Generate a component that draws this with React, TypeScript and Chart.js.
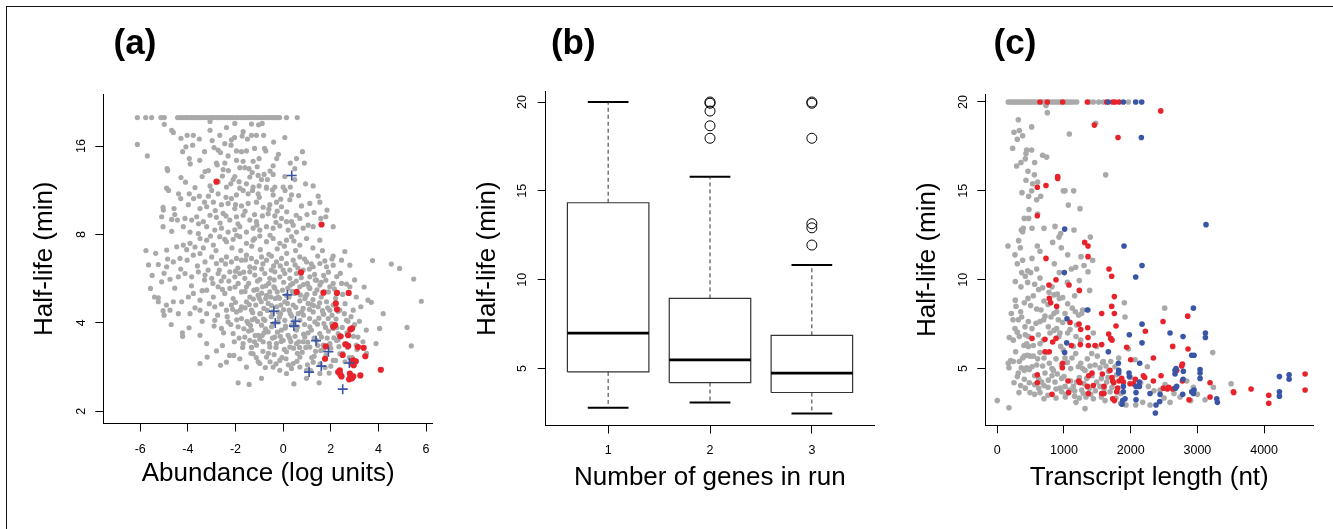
import React, { useEffect, useRef } from "react";
import { Chart, registerables } from "chart.js";
Chart.register(...registerables);

// ---------------- Panel (a): abundance vs half-life (log y) ----------------
const aXTicks = [-6, -4, -2, 0, 2, 4, 6];
const aYTicks = [2, 4, 8, 16];
// [abundance (log units), half-life (min)]
const aGray: [number, number][] = [
  [-6.12, 20], [-5.77, 20], [-5.52, 20], [-5.13, 20], [-4.99, 20], [-4.43, 20], [-4.32, 20], [-4.22, 20], [-4.1, 20], [-4.0, 20],
  [-3.88, 20], [-3.78, 20], [-3.66, 20], [-3.55, 20], [-3.45, 20], [-3.33, 20], [-3.22, 20], [-3.1, 20], [-3.0, 20], [-2.9, 20],
  [-2.78, 20], [-2.68, 20], [-2.56, 20], [-2.45, 20], [-2.34, 20], [-2.22, 20], [-2.12, 20], [-2.0, 20], [-1.9, 20], [-1.78, 20],
  [-1.67, 20], [-1.56, 20], [-1.45, 20], [-1.34, 20], [-1.22, 20], [-1.11, 20], [-1.0, 20], [-0.9, 20], [-0.78, 20], [-0.67, 20],
  [-0.56, 20], [-0.45, 20], [-0.34, 20], [-0.24, 20], [-0.15, 20], [0.14, 20], [0.59, 20],
  [-4.99, 18.96], [-4.68, 18.1], [-4.61, 17.8], [-3.07, 19.4], [-3.07, 18.1], [-2.38, 18.5], [-2.03, 19.1], [-1.68, 17.9], [-1.33, 19.0],
  [-1.03, 18.9], [-0.88, 19.1], [-4.29, 17.0], [-4.03, 17.4], [-3.77, 17.4], [-3.52, 16.9], [-2.98, 16.7], [-2.66, 17.4], [-2.17, 16.8],
  [-2.04, 17.1], [-1.72, 17.3], [-1.5, 16.9], [-1.33, 17.4], [-1.12, 17.4], [-0.82, 17.4], [0.07, 17.1], [-6.12, 16.2], [-2.19, 16.1],
  [-5.7, 14.8], [-4.22, 15.3], [-4.08, 15.9], [-3.94, 14.5], [-2.73, 15.5], [-2.63, 15.2], [-2.31, 14.8], [-1.96, 15.4], [-1.75, 15.3],
  [-1.54, 15.4], [-0.78, 15.7], [-0.73, 15.4], [-0.27, 14.5], [0.56, 14.5], [0.81, 15.3], [0.89, 14.0], [-2.8, 14.0], [-2.45, 14.0],
  [-1.96, 14.3], [-1.68, 14.2], [-1.26, 14.2], [-1.01, 14.5], [-0.42, 13.7], [-1.09, 13.6],
  [-4.85, 13.2], [-4.29, 12.5], [-3.28, 13.1], [-3.14, 13.2], [-2.77, 13.8], [-2.52, 13.3], [-2.03, 12.6], [-1.82, 13.5], [-1.61, 13.5],
  [-1.43, 13.4], [-1.05, 12.7], [-0.91, 12.3], [-0.66, 12.3], [-0.42, 12.8], [0.07, 12.6], [0.49, 13.4], [0.94, 11.9], [1.26, 11.7],
  [-4.89, 11.5], [-4.81, 11.3], [-4.39, 11.0], [-3.94, 11.0], [-3.07, 11.7], [-2.73, 12.1], [-2.38, 11.6], [-2.1, 12.3], [-1.82, 11.5],
  [-1.54, 11.9], [-1.26, 11.6], [-1.01, 11.7], [-0.7, 11.6], [-0.35, 11.6], [0.0, 11.6], [0.08, 11.3], [0.49, 12.3],
  [-3.76, 10.6], [-3.52, 10.8], [-3.14, 10.8], [-2.73, 11.0], [-2.4, 10.7], [-2.17, 10.6], [-1.96, 10.9], [-1.68, 11.3], [-1.47, 11.0],
  [-1.29, 11.3], [-1.05, 11.0], [-0.7, 11.5], [-0.42, 10.9], [0.35, 10.9], [1.47, 10.8], [1.54, 10.3], [-5.03, 9.68], [-4.58, 9.8],
  [-3.98, 10.1], [-3.49, 9.8], [-3.21, 9.94], [-2.93, 10.3], [-2.59, 10.1], [-2.31, 10.2], [-2.03, 9.8], [-1.75, 10.0], [-1.47, 10.2],
  [-1.12, 10.3], [-0.84, 9.9], [-0.56, 10.1], [-0.28, 10.3], [-0.07, 9.94], [0.28, 10.5], [0.77, 10.0], [1.12, 10.2], [1.84, 9.68], [1.3, 9.5],
  [-5.1, 9.19], [-4.44, 8.95], [-4.12, 9.07], [-3.84, 8.95], [-3.63, 9.19], [-3.35, 8.84], [-3.07, 9.3], [-2.8, 9.15], [-2.52, 9.43],
  [-2.24, 8.95], [-1.96, 9.19], [-1.68, 9.3], [-1.4, 8.95], [-1.12, 8.84], [-0.87, 9.25], [-0.63, 9.4], [-0.35, 9.25], [-0.07, 9.07],
  [0.14, 8.84], [0.42, 8.6], [0.7, 9.07], [1.05, 8.6], [1.26, 8.5], [1.58, 9.07], [1.79, 9.19], [2.1, 8.5], [-5.76, 7.05], [-4.68, 8.2],
  [-4.19, 8.5], [-3.91, 8.15], [-3.56, 8.06], [-3.21, 8.5], [-2.87, 8.28], [-2.59, 8.4], [-2.31, 8.15], [-2.03, 8.3], [-1.82, 8.5],
  [-1.54, 8.15], [-1.26, 8.4], [-0.98, 8.28], [-0.7, 8.5], [-0.42, 8.4], [-0.14, 8.55], [0.21, 8.28], [0.56, 8.15], [0.84, 8.4],
  [-4.89, 7.08], [-4.47, 7.26], [-4.19, 7.36], [-3.91, 7.46], [-3.49, 7.75], [-3.21, 7.65], [-2.93, 7.36], [-2.66, 7.86], [-2.38, 7.56],
  [-2.1, 7.7], [-1.82, 7.86], [-1.54, 7.46], [-1.26, 7.65], [-0.98, 7.9], [-0.7, 7.56], [-0.42, 7.75], [-0.14, 7.46], [0.14, 7.65],
  [0.35, 7.86], [0.7, 7.36], [0.98, 7.75], [1.54, 7.65], [2.1, 6.75], [2.59, 7.0], [3.75, 6.52], [4.54, 6.34], [4.89, 6.13],
  [-5.57, 5.24], [-5.24, 6.32], [-4.89, 6.21], [-4.61, 6.45], [-4.33, 6.63], [-4.03, 6.54], [-3.77, 6.8], [-3.49, 6.89], [-3.28, 6.45],
  [-3.0, 6.71], [-2.8, 6.37], [-2.59, 6.54], [-2.38, 6.71], [-2.17, 6.45], [-1.96, 6.63], [-1.75, 6.54], [-1.54, 6.8], [-1.33, 6.63],
  [-1.12, 6.45], [-0.91, 6.71], [-0.7, 6.54], [-0.49, 6.75], [-0.28, 6.45], [-0.07, 6.63], [0.14, 6.37], [0.42, 6.54], [0.7, 6.71],
  [0.98, 6.45], [1.26, 6.21], [1.54, 6.37], [1.82, 6.21], [2.1, 6.29], [2.45, 6.54], [2.8, 6.29], [-5.1, 5.52], [-4.75, 5.63],
  [-4.4, 5.74], [-4.12, 5.89], [-3.84, 5.74], [-3.56, 5.97], [-3.28, 5.82], [-3.0, 5.67], [-2.73, 5.89], [-2.49, 5.74], [-2.24, 5.97],
  [-2.03, 5.74], [-1.82, 5.89], [-1.61, 5.67], [-1.4, 5.97], [-1.19, 5.82], [-0.98, 5.63], [-0.77, 5.89], [-0.56, 5.67], [-0.35, 5.97],
  [-0.14, 5.74], [0.07, 5.89], [0.28, 5.67], [0.56, 5.89], [0.84, 6.05], [1.12, 5.74], [1.4, 5.59], [1.79, 5.59], [2.1, 5.45],
  [2.45, 5.45], [2.8, 5.31], [5.48, 5.64],
  [-5.24, 4.72], [-5.0, 4.25], [-4.75, 4.42], [-4.26, 4.72], [-3.98, 4.9], [-3.77, 5.04], [-3.49, 4.78], [-3.21, 5.17], [-2.93, 4.9],
  [-2.73, 5.31], [-2.45, 5.04], [-2.24, 5.24], [-2.1, 4.84], [-1.89, 5.45], [-1.75, 5.1], [-1.54, 5.31], [-1.4, 4.9], [-1.23, 5.17],
  [-1.05, 4.97], [-0.87, 5.31], [-0.73, 4.84], [-0.56, 5.1], [-0.39, 5.31], [-0.21, 4.9], [-0.03, 5.17], [0.14, 4.97], [0.31, 5.38],
  [0.49, 5.04], [0.7, 5.31], [0.91, 4.84], [1.12, 5.24], [1.33, 5.04], [1.54, 5.38], [1.75, 5.1], [1.96, 5.31], [2.24, 5.04],
  [2.66, 5.42], [3.07, 4.9], [3.56, 4.78], [4.05, 3.83], [5.2, 3.86], [5.38, 3.34], [5.8, 4.74], [-3.91, 4.3], [-3.49, 4.42],
  [-3.21, 4.3], [-2.87, 4.54], [-2.59, 4.63], [-2.38, 4.42], [-2.17, 4.6], [-1.96, 4.36], [-1.75, 4.54], [-1.54, 4.72], [-1.33, 4.42],
  [-1.15, 4.6], [-0.98, 4.3], [-0.81, 4.48], [-0.63, 4.66], [-0.45, 4.36], [-0.28, 4.54], [-0.11, 4.3], [0.07, 4.72], [0.25, 4.42],
  [0.42, 4.6], [0.63, 4.3], [0.84, 4.48], [1.05, 4.66], [1.26, 4.36], [1.47, 4.54], [1.68, 4.3], [1.96, 4.42], [2.38, 4.42],
  [2.94, 4.42], [3.26, 4.54],
  [-4.22, 3.6], [-3.49, 3.63], [-3.21, 3.4], [-2.87, 4.08], [-2.59, 3.83], [-2.31, 4.03], [-2.1, 3.68], [-1.89, 3.88], [-1.75, 4.14],
  [-1.61, 3.58], [-1.47, 3.98], [-1.33, 3.78], [-1.19, 4.14], [-1.05, 3.63], [-0.91, 3.93], [-0.77, 4.08], [-0.63, 3.73], [-0.49, 3.88],
  [-0.35, 3.58], [-0.21, 4.03], [-0.07, 3.78], [0.07, 4.08], [0.21, 3.63], [0.35, 3.93], [0.56, 3.78], [0.7, 4.08], [0.91, 3.58],
  [1.12, 3.88], [1.33, 4.03], [1.54, 3.68], [1.71, 3.98], [1.89, 4.14], [2.1, 3.83], [2.31, 3.68], [2.66, 4.08], [2.94, 3.88],
  [3.14, 3.58], [3.49, 3.78], [-1.68, 3.4], [-1.4, 3.49], [-1.12, 3.36], [-0.84, 3.45], [-0.56, 3.31], [-0.28, 3.4], [0.0, 3.49],
  [0.28, 3.31], [0.56, 3.4], [0.84, 3.45], [1.12, 3.31], [1.4, 3.49], [1.68, 3.36], [1.96, 3.4], [2.24, 3.49], [2.66, 3.4],
  [3.07, 3.36], [3.35, 3.45],
  [-3.19, 3.06], [-2.8, 3.21], [-2.63, 2.87], [-2.38, 2.94], [-2.07, 3.1], [-1.82, 3.02], [-1.54, 2.83], [-1.26, 3.14], [-0.98, 2.91],
  [-0.7, 3.06], [-0.42, 2.83], [-0.14, 2.98], [0.14, 3.19], [0.42, 2.91], [0.7, 3.06], [0.98, 2.76], [1.26, 2.94], [1.54, 2.69],
  [1.93, 2.7], [2.1, 2.98], [2.38, 3.14], [-3.49, 2.91], [-1.89, 2.5], [-1.43, 2.47], [-0.91, 2.59], [0.45, 2.48], [1.51, 2.5],
  [-0.14, 2.76], [0.14, 2.69], [0.7, 2.83], [0.98, 2.59],
  [-1.6, 4.5], [-1.3, 4.1], [-1.0, 4.85], [-0.8, 3.7], [-0.5, 4.2], [-0.3, 3.3], [-0.1, 4.6], [0.1, 3.9], [0.3, 4.3], [0.5, 3.6],
  [0.7, 4.75], [0.9, 3.95], [1.1, 4.45], [1.3, 3.55], [1.5, 4.15], [1.7, 3.25], [1.9, 3.75], [2.1, 4.6], [2.3, 3.5], [2.5, 3.15],
  [-1.45, 3.75], [-1.2, 3.45], [-0.95, 4.3], [-0.7, 4.95], [-0.45, 3.55], [-0.2, 4.35], [0.05, 3.25], [0.25, 4.9], [0.45, 4.05],
  [0.65, 3.45], [0.85, 4.25], [1.05, 3.7], [1.25, 4.8], [1.45, 3.35], [1.65, 4.4], [1.85, 3.55], [2.05, 4.25], [2.25, 3.85],
  [2.45, 3.6], [2.7, 3.3], [-2.0, 4.7], [-2.2, 3.95], [-1.85, 3.55], [-1.1, 5.2], [-0.6, 5.45], [-0.25, 5.1], [0.2, 5.25],
  [0.55, 5.55], [1.0, 5.0], [1.35, 5.6], [1.6, 4.9], [1.9, 5.1], [2.2, 4.85], [2.6, 4.65], [2.85, 4.2], [3.0, 3.95], [3.2, 4.05],
  [2.9, 3.05], [2.6, 2.95], [0.35, 2.8], [-0.85, 3.2], [-0.55, 2.95], [-0.05, 3.05], [0.6, 3.15], [0.95, 3.3], [1.2, 3.05],
  [1.55, 2.9], [1.8, 3.1], [2.0, 2.85], [-1.35, 3.15], [-1.05, 2.95], [-2.5, 3.7], [-2.75, 4.25], [-2.9, 3.9], [-3.1, 4.65],
  [-3.4, 4.05], [-3.7, 4.5], [-3.95, 3.85], [-4.4, 4.3], [-4.7, 3.95], [-4.9, 4.6], [-5.4, 4.9], [-5.5, 5.8], [-3.3, 5.6],
  [-2.6, 5.55], [-2.0, 6.0], [-1.4, 6.2], [-0.9, 6.1], [-0.4, 6.25], [0.0, 6.05], [0.5, 6.3], [1.1, 6.1], [1.7, 5.8], [2.4, 5.9],
  [3.0, 5.6], [3.4, 5.3], [3.7, 4.7], [4.2, 4.3], [3.9, 3.4], [3.5, 3.15],
  [-5.04, 9.9], [-5.04, 8.5], [-4.87, 13.4], [-4.68, 9.0], [-4.61, 4.72], [-4.23, 3.7], [-5.24, 4.87], [-5.04, 4.4],
  [-1.42, 4.62], [-1.37, 3.92], [-1.28, 4.33], [-1.18, 3.62], [-1.08, 4.05], [-0.98, 3.52], [-0.92, 4.72], [-0.83, 4.12], [-0.74, 3.82],
  [-0.66, 4.41], [-0.58, 3.41], [-0.49, 4.58], [-0.4, 3.98], [-0.33, 4.84], [-0.24, 3.72], [-0.16, 4.18], [-0.08, 3.46], [0.02, 4.44],
  [0.09, 3.84], [0.18, 4.66], [0.27, 3.55], [0.36, 4.22], [0.44, 3.28], [0.53, 4.52], [0.61, 3.88], [0.69, 3.3], [0.78, 4.36],
  [0.86, 3.66], [0.94, 4.92], [1.03, 3.44], [1.11, 4.14], [1.19, 3.78], [1.28, 4.58], [1.36, 3.2], [1.44, 3.96], [1.53, 4.68],
  [1.61, 3.58], [1.7, 4.28], [1.78, 3.86], [1.87, 4.5], [1.95, 3.36], [2.04, 3.98], [2.13, 3.56], [2.22, 4.12], [2.34, 3.32],
  [2.48, 3.86], [2.57, 4.3], [2.68, 3.7], [-1.33, 3.3], [-1.13, 3.05], [-0.88, 3.62], [-0.62, 3.15], [-0.38, 3.12], [-0.12, 3.6],
  [0.12, 3.02], [0.32, 3.46], [0.58, 2.96], [0.8, 3.18], [1.02, 2.88], [1.3, 3.08], [1.58, 3.22], [1.76, 2.82], [2.0, 3.28],
  [2.2, 2.98], [1.16, 2.75], [0.22, 2.88], [-0.3, 2.9], [-0.75, 2.82], [-1.52, 4.05], [-1.65, 3.82], [-1.8, 4.42], [-1.95, 4.1],
  [-2.12, 4.45], [-2.35, 4.2], [-2.05, 3.45], [-1.7, 3.3], [-2.55, 3.35], [-2.25, 3.1], [-0.9, 5.05], [-0.52, 4.9], [-0.15, 4.85],
  [0.38, 5.12], [0.72, 4.98], [1.08, 5.3], [1.42, 5.18], [1.82, 4.72], [2.15, 5.22], [2.5, 5.0], [-1.6, 5.12], [-1.25, 4.82],
  [-0.35, 5.25], [0.85, 5.4], [1.2, 4.62], [2.3, 4.38], [2.72, 4.05], [2.95, 3.6], [3.1, 3.25], [2.78, 3.05],
  [-3.85, 5.35], [-3.6, 6.25], [-3.4, 5.15], [-3.15, 6.05], [-2.95, 5.45], [-2.82, 7.05], [-2.68, 6.05], [-2.55, 5.2], [-2.42, 6.35],
  [-2.28, 5.55], [-2.15, 7.2], [-2.02, 5.3], [-1.9, 6.15], [-1.78, 7.05], [-1.66, 5.95], [-1.58, 6.55], [-1.45, 5.45], [-1.32, 7.3],
  [-1.2, 6.15], [-1.08, 5.55], [-0.96, 7.1], [-0.85, 6.35], [-0.72, 5.35], [-0.6, 6.85], [-0.5, 6.05], [-0.38, 5.6], [-0.25, 7.15],
  [-0.12, 6.25], [0.02, 5.5], [0.15, 6.9], [0.28, 6.05], [0.4, 5.45], [0.52, 7.05], [0.62, 6.15], [0.76, 5.7], [0.9, 6.6],
  [1.02, 5.45], [1.18, 6.35], [1.32, 5.85], [1.45, 6.75], [1.6, 5.5], [1.75, 6.5], [1.9, 5.95], [2.05, 6.6], [2.25, 5.75],
  [-4.55, 5.25], [-4.3, 6.1], [-4.05, 7.1], [-3.7, 7.25], [-3.35, 7.2], [-3.05, 7.9], [-2.45, 7.7], [-1.95, 7.95], [-1.2, 7.75],
  [-0.55, 7.95], [0.05, 7.3], [0.45, 7.6], [1.25, 7.2], [1.65, 7.05], [-5.0, 5.9], [-4.85, 6.6], [-5.35, 6.9], [-5.65, 6.3],
  [-4.1, 12.05], [-3.7, 11.55], [-3.4, 12.6], [-3.3, 10.3], [-3.0, 11.3], [-2.85, 9.65], [-2.55, 12.65], [-2.4, 9.25], [-2.2, 11.9],
  [-2.0, 10.1], [-1.85, 12.1], [-1.6, 9.6], [-1.4, 12.55], [-1.2, 9.35], [-1.0, 10.7], [-0.8, 12.8], [-0.6, 9.75], [-0.45, 11.35],
  [-0.25, 9.6], [-0.1, 10.55], [0.15, 9.55], [0.3, 11.6], [0.55, 9.3], [0.65, 10.85], [1.0, 9.35], [-3.55, 8.7], [-2.65, 8.75],
  [-1.9, 8.7], [-1.1, 8.6], [-0.3, 8.8], [0.35, 8.85], [-4.3, 10.6], [-4.55, 9.35], [-3.9, 13.9], [-3.5, 14.3], [-2.3, 13.2],
  [-1.3, 13.0], [-0.55, 13.15], [-0.2, 15.0], [0.3, 14.0], [-3.3, 15.3], [-2.9, 15.8], [-1.2, 15.7], [-0.4, 16.5], [-3.8, 16.1],
  [-2.45, 16.3],
];
const aRed: [number, number][] = [
  [-2.8, 12.1], [1.61, 8.65], [0.75, 5.94], [0.57, 5.1], [1.69, 5.07], [2.26, 5.06], [2.75, 5.06], [2.21, 4.66], [2.26, 4.45],
  [2.1, 3.88], [2.18, 3.93], [2.4, 3.6], [2.73, 3.63], [2.82, 3.8], [2.89, 3.83], [1.79, 3.33], [2.61, 3.38], [2.73, 3.34],
  [3.14, 3.31], [3.38, 3.29], [2.5, 3.11], [3.45, 3.08], [1.76, 3.02], [2.94, 2.98], [3.05, 2.96], [2.87, 2.91], [2.38, 2.76],
  [2.4, 2.67], [2.45, 2.63], [2.8, 2.69], [2.82, 2.61], [2.94, 2.63], [3.24, 2.65], [2.77, 2.57], [2.89, 2.59], [4.1, 2.77],
  [2.31, 2.72], [2.96, 2.87],
];
const aBlue: [number, number][] = [
  [0.36, 12.7], [0.18, 4.98], [-0.39, 4.38], [-0.33, 4.0], [0.52, 4.05], [0.45, 3.9], [1.38, 3.48], [1.9, 3.19], [2.78, 2.92],
  [1.6, 2.85], [1.09, 2.72], [2.5, 2.38],
];

// ---------------- Panel (b): box plot of half-life by run size ----------------
const bGroups = [1, 2, 3];
const bYTicks = [5, 10, 15, 20];
const bQ1 = [4.81, 4.21, 3.65];
const bMedian = [6.99, 5.49, 4.74];
const bQ3 = [14.33, 8.95, 6.87];
const bWhiskerLow = [2.79, 3.09, 2.47];
const bWhiskerHigh = [20, 15.8, 10.83];
const bOutliers: number[][] = [
  [],
  [20, 19.93, 19.49, 18.66, 17.96],
  [20, 19.93, 17.96, 13.15, 12.92, 11.95],
];

// ---------------- Panel (c): transcript length vs half-life ----------------
const cXTicks = [0, 1000, 2000, 3000, 4000];
const cYTicks = [5, 10, 15, 20];
// [transcript length (nt), half-life (min)]
const cGray: [number, number][] = [
  [165, 20], [200, 20], [230, 20], [260, 20], [290, 20], [320, 20], [350, 20], [380, 20], [410, 20], [440, 20], [470, 20], [500, 20],
  [530, 20], [560, 20], [600, 20], [680, 20], [710, 20], [780, 20], [820, 20], [860, 20], [900, 20], [940, 20], [1020, 20], [1060, 20],
  [1100, 20], [1140, 20], [1190, 20], [1380, 20], [1440, 20], [1520, 20], [1590, 20], [1965, 20],
  [730, 19.8], [750, 19.4], [315, 19.0], [330, 18.4], [380, 18.1], [515, 18.6], [1080, 18.2], [1475, 18.8],
  [230, 17.4], [430, 17.1], [440, 17.3], [515, 17.3], [680, 17.0], [740, 16.9], [355, 16.6], [460, 16.1], [555, 15.9], [1625, 15.9],
  [530, 15.4], [605, 15.5], [990, 15.0], [1015, 15.0], [1145, 15.0], [515, 15.0], [590, 14.5], [650, 14.7], [1065, 14.2], [475, 13.95],
  [405, 13.45], [470, 13.45], [605, 13.7], [360, 12.8], [380, 12.7], [390, 12.9], [865, 13.0], [925, 12.4], [950, 12.6], [1395, 12.4],
  [160, 11.9], [600, 11.9], [640, 11.6], [265, 11.4], [1055, 11.4], [1255, 11.3], [855, 10.9], [520, 11.2],
  [365, 10.4], [455, 10.5], [590, 10.6], [640, 10.1], [930, 10.4], [1175, 10.7], [1360, 10.45], [355, 9.6], [540, 9.1], [775, 9.3],
  [900, 9.2], [1160, 9.1], [1385, 9.4], [270, 8.85], [280, 8.5], [405, 8.7], [500, 8.55], [850, 9.15], [1280, 8.3], [1905, 8.7],
  [1915, 7.9], [2510, 8.4], [3230, 5.9],
  [0, 3.2], [175, 2.8], [165, 5.3], [175, 5.05], [200, 5.45], [240, 5.4], [180, 6.75], [300, 7.05], [330, 6.8], [400, 6.3], [440, 6.4],
  [465, 6.25], [490, 5.7], [405, 5.7], [450, 5.75], [325, 3.65], [490, 3.65], [405, 4.4], [315, 4.75], [405, 4.9], [275, 5.95],
  [330, 5.4], [440, 5.05], [590, 5.2], [605, 5.55], [640, 5.9], [580, 7.55], [640, 7.65], [695, 7.75], [765, 7.35], [790, 7.0],
  [850, 7.15], [890, 7.25], [940, 7.0], [950, 6.25], [925, 6.8], [990, 6.05], [1015, 5.6], [1050, 5.35], [1120, 5.6], [1175, 5.85],
  [1215, 5.1], [1280, 5.0], [1315, 4.9], [1390, 5.15], [1465, 5.2], [1540, 5.05], [1590, 5.4], [1630, 5.15], [2065, 5.5], [2250, 5.1],
  [1965, 6.1], [1090, 7.2], [1190, 7.45], [1265, 8.1], [1365, 8.3], [1140, 6.25], [840, 4.9], [715, 4.75], [765, 4.35], [665, 4.25],
  [865, 4.25], [965, 4.45], [1015, 4.0], [965, 3.7], [1080, 3.8], [1140, 4.0], [1190, 4.25], [1265, 3.8], [1330, 3.4], [1340, 4.45],
  [1490, 4.25], [1540, 4.0], [1640, 4.25], [1690, 3.7], [1615, 3.2], [1315, 2.75], [1440, 3.3], [1290, 3.6], [1665, 4.85], [1765, 5.1],
  [1930, 2.95], [2075, 2.95], [2265, 4.0], [2440, 3.8], [2515, 4.1], [2590, 3.1], [2740, 3.4], [2940, 3.95], [3115, 3.25], [3505, 4.15],
  [3240, 3.95], [2840, 4.3], [2180, 3.1], [2290, 2.95],
  [315, 7.75], [365, 7.9], [415, 7.35], [465, 7.65], [520, 7.25], [615, 6.9], [690, 6.6], [640, 6.4], [540, 6.3], [465, 6.8],
  [265, 7.25], [240, 6.6], [1015, 8.1], [980, 7.6], [805, 7.9], [850, 8.1], [915, 7.75], [1055, 7.0], [1180, 6.8], [1250, 6.6],
  [1440, 7.0], [1490, 6.25], [1415, 5.85], [1580, 5.35], [655, 8.3], [715, 7.95], [930, 8.95], [890, 8.2], [1055, 8.65], [1125, 8.4],
  [1170, 8.2], [1220, 8.0],
  [560, 4.1], [620, 3.9], [700, 4.05], [760, 3.95], [820, 4.6], [880, 3.85], [900, 4.7], [1000, 4.55], [1030, 3.55], [1100, 4.3],
  [1160, 3.45], [1230, 4.5], [1300, 4.15], [1380, 3.9], [1420, 4.6], [1470, 3.75], [1560, 4.45], [1600, 3.85], [1660, 4.5], [1720, 3.95],
  [1790, 4.65], [1850, 3.6], [1250, 5.3], [1100, 5.0], [960, 5.2], [880, 5.55], [780, 5.3], [700, 5.6], [1350, 5.55], [1500, 5.7],
  [1700, 5.4], [1820, 5.6], [2000, 4.5], [2150, 4.2], [2350, 3.75], [2500, 3.35], [2650, 3.6], [2900, 3.2], [3000, 3.55], [1850, 3.05],
  [1020, 3.4], [1160, 3.75], [760, 3.5], [820, 5.0], [560, 4.6], [520, 5.1], [480, 4.2], [420, 3.9],
  [270, 9.9], [300, 10.9], [320, 12.2], [345, 11.8], [380, 11.1], [420, 10.2], [455, 9.85], [500, 10.4], [560, 9.75], [620, 9.45],
  [700, 8.8], [760, 8.6], [520, 12.9], [470, 14.7], [430, 15.6], [370, 14.9], [290, 16.4], [250, 18.3], [300, 17.9], [420, 16.8],
  [560, 16.6], [210, 8.1], [235, 7.75], [350, 8.2], [460, 8.95], [590, 8.35], [680, 9.55], [820, 9.6], [980, 9.0], [1050, 9.85],
  [1110, 10.6], [1230, 9.95], [1300, 10.8], [1430, 11.1], [960, 11.8], [830, 12.1], [700, 12.9], [1150, 12.8], [1240, 14.0], [360, 5.05],
  [380, 5.6], [300, 4.55], [250, 4.2], [350, 4.05], [480, 4.95], [540, 5.7], [620, 4.45], [680, 5.15], [740, 5.9], [560, 3.55],
  [640, 3.65], [700, 3.3], [880, 3.35], [940, 3.9], [1180, 3.1], [1400, 3.55], [1560, 3.4], [1780, 3.35], [1230, 3.35], [420, 6.9],
];
const cRed: [number, number][] = [
  [640, 20], [750, 20], [980, 20], [1350, 20], [1640, 20], [1730, 20], [1765, 20], [1825, 20],
  [2450, 19.5], [1455, 18.7], [1810, 18.0], [905, 15.8], [905, 15.7], [600, 15.2], [730, 15.3], [600, 13.6],
  [1310, 12.1], [1360, 11.9], [1360, 11.3], [730, 11.2],
  [775, 9.7], [880, 10.0], [1075, 9.7], [1230, 9.4], [1755, 9.05], [780, 8.95], [800, 8.7], [890, 8.5], [1565, 8.1], [1715, 8.5],
  [1755, 8.1], [1675, 10.6], [1715, 10.2], [2485, 7.65], [2855, 7.95], [1780, 7.4], [2220, 7.1],
  [1090, 7.6], [1225, 7.5], [1250, 7.2], [1355, 7.3], [1360, 6.75], [1670, 6.95], [1700, 6.7], [1720, 6.6], [1940, 6.2], [2000, 5.5],
  [2340, 5.6], [2630, 6.25], [2860, 6.1], [520, 6.7], [715, 6.65], [715, 5.95], [780, 5.95], [830, 6.5], [880, 6.7], [1110, 6.3],
  [1245, 6.35], [1365, 6.3], [1465, 6.3], [1565, 6.35],
  [600, 4.65], [600, 4.2], [820, 3.55], [980, 5.3], [975, 5.05], [1060, 4.3], [1070, 3.65], [1220, 4.3], [1240, 4.2], [1365, 3.6],
  [1370, 4.6], [1420, 4.75], [1440, 4.05], [1350, 4.0], [1575, 4.7], [1565, 3.6], [1600, 3.6], [1600, 4.0], [1690, 4.9], [1720, 4.5],
  [1730, 4.3], [1745, 4.2], [1730, 3.3], [1755, 3.2], [1790, 3.7], [1805, 3.9], [1825, 4.3], [1865, 4.45], [1890, 4.25], [1990, 4.15],
  [2040, 4.15], [2070, 4.4], [2190, 4.6], [2210, 4.5], [2340, 4.3], [2455, 4.6], [2490, 3.9], [2550, 3.85], [2570, 3.95], [2630, 3.85],
  [2690, 4.9], [2765, 5.15], [2775, 5.25], [2775, 4.3], [2875, 3.25], [3190, 4.2], [3190, 3.4], [3540, 3.7], [3545, 3.65], [3805, 3.85],
  [4070, 3.5], [4070, 3.05], [4615, 4.7], [4615, 3.8],
];
const cBlue: [number, number][] = [
  [1665, 20], [1890, 20], [2075, 20], [2165, 20],
  [2160, 18.0], [1010, 12.85], [1900, 11.9], [2170, 10.8], [2075, 10.15], [1005, 10.4], [3130, 13.1],
  [1350, 8.3], [2940, 8.4], [1045, 7.8], [2170, 7.5], [1980, 6.9], [2590, 7.0], [2785, 6.8], [3120, 7.0], [3120, 6.75], [1040, 6.45],
  [2170, 6.45], [1665, 5.95], [1010, 5.9], [2915, 5.75], [2950, 5.75], [2135, 5.3],
  [1815, 5.3], [1820, 4.9], [1820, 4.75], [1890, 4.0], [1890, 3.7], [1880, 3.2], [1870, 3.0], [1915, 3.3], [1975, 4.75], [1980, 4.55],
  [2080, 4.0], [2080, 3.65], [2080, 3.25], [2130, 4.25], [2130, 4.0], [2290, 3.6], [2380, 2.95], [2370, 2.5], [2440, 3.55], [2435, 3.15],
  [2665, 4.9], [2665, 4.7], [2680, 5.0], [2690, 4.0], [2670, 3.9], [2780, 3.55], [2785, 4.4], [2790, 4.85], [2915, 3.7], [2940, 3.6],
  [2950, 3.8], [3040, 4.95], [3040, 4.75], [3040, 4.45], [3290, 3.3], [3300, 3.1], [4230, 4.55], [4230, 3.7], [4230, 3.45], [4375, 4.65],
  [4375, 4.4],
];

// ---------------- styling ----------------
const FONT = "'Liberation Sans', Arial, Helvetica, sans-serif";
const GRAY = "#a9a9a9";
const RED = "#e8222a";
const BLUE = "#3a55a5";
const BOX_HALF = 0.4;
const CAP_HALF = 0.2;
const TICK_FONT_SIZE = 12.5;

Chart.defaults.font.family = FONT;

const pts = (arr: [number, number][]) => arr.map(([x, y]) => ({ x, y }));

// Panel letter and R-style rotated y tick labels (taken from the y scale's own ticks).
const panelDecor = {
  id: "panelDecor",
  afterDraw(chart: any, _args: any, opts: any) {
    const ctx = chart.ctx;
    ctx.save();
    ctx.font = `bold 35px ${FONT}`;
    ctx.fillStyle = "#000";
    ctx.textAlign = "center";
    ctx.textBaseline = "alphabetic";
    ctx.fillText(opts.text, opts.x, opts.y);

    const ys = chart.scales.y;
    ctx.font = `${TICK_FONT_SIZE}px ${FONT}`;
    ctx.textAlign = "center";
    ctx.textBaseline = "middle";
    for (const t of ys.ticks) {
      const py = ys.getPixelForValue(t.value);
      ctx.save();
      ctx.translate(ys.right - opts.yLabelOffset, py);
      ctx.rotate(-Math.PI / 2);
      ctx.fillText(String(t.value), 0, 0);
      ctx.restore();
    }
    ctx.restore();
  },
};

function axisCommon(ticks: number[], tickPad: number) {
  return {
    bounds: "data",
    afterBuildTicks: (s: any) => {
      s.ticks = ticks.map((v) => ({ value: v }));
    },
    grid: { display: true, drawOnChartArea: false, drawTicks: true, tickLength: 8, color: "#000", tickColor: "#000", lineWidth: 1 },
    border: { display: true, color: "#000", width: 1 },
    ticks: { color: "#000", font: { size: TICK_FONT_SIZE }, padding: tickPad, autoSkip: false, callback: (v: any) => String(v) },
  };
}

function xAxis(type: string, min: number, max: number, ticks: number[], tickPad: number, title: string, titlePad: number) {
  const c: any = axisCommon(ticks, tickPad);
  return {
    ...c,
    type,
    position: "bottom",
    min,
    max,
    afterFit: (s: any) => {
      s.height = 100;
    },
    ticks: { ...c.ticks, maxRotation: 0, minRotation: 0 },
    title: { display: true, text: title, color: "#000", font: { size: 26 }, padding: { top: 0, bottom: titlePad } },
  };
}

function yAxis(type: string, min: number, max: number, ticks: number[], width: number, titlePad: number) {
  const c: any = axisCommon(ticks, 0);
  return {
    ...c,
    type,
    position: "left",
    min,
    max,
    afterFit: (s: any) => {
      s.width = width;
    },
    ticks: { ...c.ticks, display: false },
    title: { display: true, text: "Half-life (min)", color: "#000", font: { size: 26 }, padding: { top: titlePad, bottom: 0 } },
  };
}

function baseOptions(padding: any, decor: any, scales: any) {
  return {
    responsive: false,
    animation: false,
    events: [],
    layout: { padding },
    plugins: { legend: { display: false }, tooltip: { enabled: false }, panelDecor: decor },
    scales,
  };
}

function configA() {
  return {
    type: "scatter",
    data: {
      datasets: [
        { data: pts(aBlue), pointStyle: "cross", pointRadius: 5, borderColor: BLUE, borderWidth: 1.6, backgroundColor: BLUE },
        { data: pts(aRed), pointStyle: "circle", pointRadius: 3.1, backgroundColor: RED, borderWidth: 0 },
        { data: pts(aGray), pointStyle: "circle", pointRadius: 2.6, backgroundColor: GRAY, borderWidth: 0 },
      ],
    },
    options: baseOptions(
      { left: 0, right: 6.7, top: 94, bottom: 5.5 },
      { text: "(a)", x: 135, y: 54, yLabelOffset: 21.6 },
      {
        x: xAxis("linear", -7.55, 6.29, aXTicks, 10.3, "Abundance (log units)", 33.7),
        y: yAxis("logarithmic", 1.818, 24.05, aYTicks, 103.3, 29.4),
      }
    ),
    plugins: [panelDecor],
  };
}

function configB() {
  const datasets: any[] = [];
  const line = { showLine: true, pointRadius: 0, fill: false, tension: 0 };
  bGroups.forEach((g, i) => {
    datasets.push({
      ...line,
      data: bOutliers[i].map((v) => ({ x: g, y: v })),
      showLine: false,
      pointStyle: "circle",
      pointRadius: 5,
      borderColor: "#000",
      borderWidth: 1,
      backgroundColor: "rgba(0,0,0,0)",
    });
    datasets.push({
      ...line,
      data: [
        { x: g - BOX_HALF, y: bMedian[i] },
        { x: g + BOX_HALF, y: bMedian[i] },
      ],
      borderColor: "#000",
      borderWidth: 2.6,
    });
    datasets.push({
      ...line,
      data: [
        { x: g - BOX_HALF, y: bQ1[i] },
        { x: g + BOX_HALF, y: bQ1[i] },
        { x: g + BOX_HALF, y: bQ3[i] },
        { x: g - BOX_HALF, y: bQ3[i] },
        { x: g - BOX_HALF, y: bQ1[i] },
      ],
      borderColor: "#333",
      borderWidth: 1.2,
    });
    datasets.push({
      ...line,
      data: [
        { x: g, y: bQ3[i] },
        { x: g, y: bWhiskerHigh[i] },
      ],
      borderColor: "#333",
      borderWidth: 1,
      borderDash: [4, 3],
    });
    datasets.push({
      ...line,
      data: [
        { x: g, y: bQ1[i] },
        { x: g, y: bWhiskerLow[i] },
      ],
      borderColor: "#333",
      borderWidth: 1,
      borderDash: [4, 3],
    });
    datasets.push({
      ...line,
      data: [
        { x: g - CAP_HALF, y: bWhiskerHigh[i] },
        { x: g + CAP_HALF, y: bWhiskerHigh[i] },
      ],
      borderColor: "#000",
      borderWidth: 2,
    });
    datasets.push({
      ...line,
      data: [
        { x: g - CAP_HALF, y: bWhiskerLow[i] },
        { x: g + CAP_HALF, y: bWhiskerLow[i] },
      ],
      borderColor: "#000",
      borderWidth: 2,
    });
  });
  return {
    type: "scatter",
    data: { datasets },
    options: baseOptions(
      { left: 0, right: 3.3, top: 91.7, bottom: 3.5 },
      { text: "(b)", x: 133.3, y: 54, yLabelOffset: 22.9 },
      {
        x: xAxis("linear", 0.387, 3.61, bGroups, 9.7, "Number of genes in run", 31.9),
        y: yAxis("linear", 1.794, 20.58, bYTicks, 105.7, 32.7),
      }
    ),
    plugins: [panelDecor],
  };
}

function configC() {
  return {
    type: "scatter",
    data: {
      datasets: [
        { data: pts(cBlue), pointStyle: "circle", pointRadius: 2.8, backgroundColor: BLUE, borderWidth: 0 },
        { data: pts(cRed), pointStyle: "circle", pointRadius: 2.8, backgroundColor: RED, borderWidth: 0 },
        { data: pts(cGray), pointStyle: "circle", pointRadius: 2.8, backgroundColor: GRAY, borderWidth: 0 },
      ],
    },
    options: baseOptions(
      { left: 0, right: 19.7, top: 94, bottom: 3.7 },
      { text: "(c)", x: 135, y: 54, yLabelOffset: 21.5 },
      {
        x: xAxis("linear", -180, 4738, cXTicks, 10.2, "Transcript length (nt)", 31.9),
        y: yAxis("linear", 1.81, 20.45, cYTicks, 105.3, 32.7),
      }
    ),
    plugins: [panelDecor],
  };
}

function Panel({ left, width, make }: { left: number; width: number; make: () => any }) {
  const ref = useRef<HTMLCanvasElement | null>(null);
  useEffect(() => {
    if (!ref.current) return;
    const chart = new Chart(ref.current, make());
    return () => chart.destroy();
  }, []);
  return (
    <canvas
      ref={ref}
      width={width}
      height={529}
      style={{ position: "absolute", left, top: 0, width, height: 529 }}
    />
  );
}

export default function App() {
  return (
    <div style={{ position: "absolute", left: 0, top: 0, width: 1333, height: 529, background: "#fff", overflow: "hidden" }}>
      <div
        style={{
          position: "absolute",
          left: 6,
          top: 6,
          width: 1340,
          height: 540,
          borderTop: "1.5px solid #111",
          borderLeft: "1.5px solid #111",
        }}
      />
      <Panel left={0} width={440} make={configA} />
      <Panel left={440} width={440} make={configB} />
      <Panel left={880} width={453} make={configC} />
    </div>
  );
}
